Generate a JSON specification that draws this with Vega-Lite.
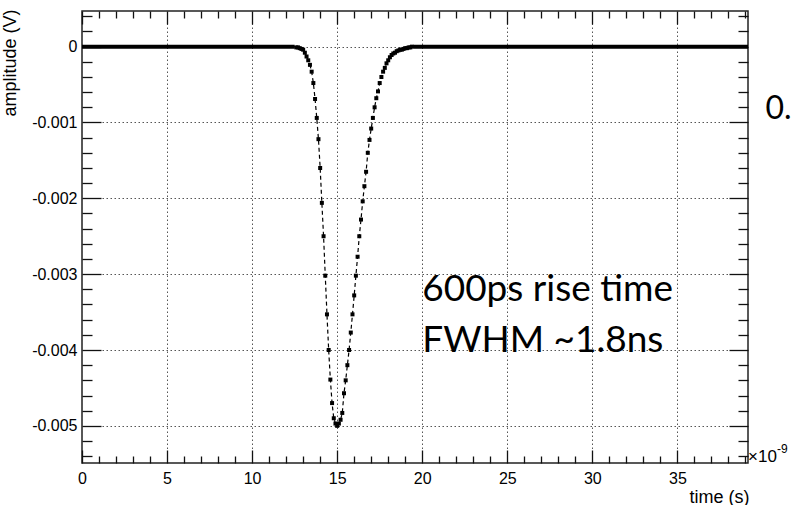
{
  "$schema": "https://vega.github.io/schema/vega-lite/v6.json",
  "width": 666,
  "height": 452,
  "autosize": "none",
  "padding": {"left": 82, "top": 11, "right": 44, "bottom": 42},
  "background": "white",
  "config": {
    "view": {"stroke": "#222", "strokeWidth": 1.5},
    "axis": {
      "domain": false,
      "labelFont": "Liberation Sans",
      "labelFontSize": 16,
      "labelColor": "black",
      "titleFont": "Liberation Sans",
      "titleFontSize": 18,
      "titleFontWeight": "normal",
      "titleColor": "black",
      "tickColor": "#111",
      "tickWidth": 1.3,
      "gridColor": "#555",
      "gridDash": [1.5, 2.5],
      "gridWidth": 1,
      "labelFlush": false,
      "labelOverlap": false
    }
  },
  "datasets": {
    "wave": [
      {"t": 0, "v": 0, "seg": "flatL"}, {"t": 1, "v": 0, "seg": "flatL"}, {"t": 2, "v": 0, "seg": "flatL"},
      {"t": 3, "v": 0, "seg": "flatL"}, {"t": 4, "v": 0, "seg": "flatL"}, {"t": 5, "v": 0, "seg": "flatL"},
      {"t": 6, "v": 0, "seg": "flatL"}, {"t": 7, "v": 0, "seg": "flatL"}, {"t": 8, "v": 0, "seg": "flatL"},
      {"t": 9, "v": 0, "seg": "flatL"}, {"t": 10, "v": 0, "seg": "flatL"}, {"t": 11, "v": 0, "seg": "flatL"},
      {"t": 12, "v": 0, "seg": "flatL"}, {"t": 12.5, "v": 0, "seg": "flatL"},
      {"t": 12.6, "v": -0.00001, "seg": "pulse"},
      {"t": 12.7, "v": -0.00001, "seg": "pulse"},
      {"t": 12.8, "v": -0.00002, "seg": "pulse"},
      {"t": 12.9, "v": -0.00003, "seg": "pulse"},
      {"t": 13.0, "v": -0.00004, "seg": "pulse"},
      {"t": 13.1, "v": -0.00008, "seg": "pulse"},
      {"t": 13.2, "v": -0.00013, "seg": "pulse"},
      {"t": 13.3, "v": -0.00018, "seg": "pulse"},
      {"t": 13.4, "v": -0.00024, "seg": "pulse"},
      {"t": 13.5, "v": -0.00033, "seg": "pulse"},
      {"t": 13.6, "v": -0.00048, "seg": "pulse"},
      {"t": 13.7, "v": -0.00069, "seg": "pulse"},
      {"t": 13.8, "v": -0.00094, "seg": "pulse"},
      {"t": 13.9, "v": -0.00122, "seg": "pulse"},
      {"t": 14.0, "v": -0.0016, "seg": "pulse"},
      {"t": 14.1, "v": -0.00206, "seg": "pulse"},
      {"t": 14.2, "v": -0.0025, "seg": "pulse"},
      {"t": 14.3, "v": -0.00302, "seg": "pulse"},
      {"t": 14.4, "v": -0.00353, "seg": "pulse"},
      {"t": 14.5, "v": -0.004, "seg": "pulse"},
      {"t": 14.6, "v": -0.00439, "seg": "pulse"},
      {"t": 14.7, "v": -0.0047, "seg": "pulse"},
      {"t": 14.8, "v": -0.0049, "seg": "pulse"},
      {"t": 14.9, "v": -0.00497, "seg": "pulse"},
      {"t": 15.0, "v": -0.005, "seg": "pulse"},
      {"t": 15.1, "v": -0.00497, "seg": "pulse"},
      {"t": 15.2, "v": -0.00492, "seg": "pulse"},
      {"t": 15.3, "v": -0.00483, "seg": "pulse"},
      {"t": 15.4, "v": -0.00457, "seg": "pulse"},
      {"t": 15.5, "v": -0.0044, "seg": "pulse"},
      {"t": 15.6, "v": -0.0042, "seg": "pulse"},
      {"t": 15.7, "v": -0.004, "seg": "pulse"},
      {"t": 15.8, "v": -0.00377, "seg": "pulse"},
      {"t": 15.9, "v": -0.00353, "seg": "pulse"},
      {"t": 16.0, "v": -0.00328, "seg": "pulse"},
      {"t": 16.1, "v": -0.00302, "seg": "pulse"},
      {"t": 16.2, "v": -0.00277, "seg": "pulse"},
      {"t": 16.3, "v": -0.0025, "seg": "pulse"},
      {"t": 16.4, "v": -0.00228, "seg": "pulse"},
      {"t": 16.5, "v": -0.00204, "seg": "pulse"},
      {"t": 16.6, "v": -0.00184, "seg": "pulse"},
      {"t": 16.7, "v": -0.00165, "seg": "pulse"},
      {"t": 16.8, "v": -0.0014, "seg": "pulse"},
      {"t": 16.9, "v": -0.00123, "seg": "pulse"},
      {"t": 17.0, "v": -0.00108, "seg": "pulse"},
      {"t": 17.1, "v": -0.00094, "seg": "pulse"},
      {"t": 17.2, "v": -0.0008, "seg": "pulse"},
      {"t": 17.3, "v": -0.00068, "seg": "pulse"},
      {"t": 17.4, "v": -0.00059, "seg": "pulse"},
      {"t": 17.5, "v": -0.00048, "seg": "pulse"},
      {"t": 17.6, "v": -0.0004, "seg": "pulse"},
      {"t": 17.7, "v": -0.00033, "seg": "pulse"},
      {"t": 17.8, "v": -0.00028, "seg": "pulse"},
      {"t": 17.9, "v": -0.00022, "seg": "pulse"},
      {"t": 18.0, "v": -0.00018, "seg": "pulse"},
      {"t": 18.1, "v": -0.00014, "seg": "pulse"},
      {"t": 18.2, "v": -0.00011, "seg": "pulse"},
      {"t": 18.3, "v": -0.00009, "seg": "pulse"},
      {"t": 18.4, "v": -0.00008, "seg": "pulse"},
      {"t": 18.5, "v": -0.00006, "seg": "pulse"},
      {"t": 18.6, "v": -0.00005, "seg": "pulse"},
      {"t": 18.7, "v": -0.00004, "seg": "pulse"},
      {"t": 18.8, "v": -0.00004, "seg": "pulse"},
      {"t": 18.9, "v": -0.00003, "seg": "pulse"},
      {"t": 19.0, "v": -0.00002, "seg": "pulse"},
      {"t": 19.1, "v": -0.00002, "seg": "pulse"},
      {"t": 19.2, "v": -0.00001, "seg": "pulse"},
      {"t": 19.3, "v": -0.00001, "seg": "pulse"},
      {"t": 19.4, "v": 0, "seg": "pulse"},
      {"t": 19.5, "v": 0, "seg": "flatR"}, {"t": 20, "v": 0, "seg": "flatR"}, {"t": 21, "v": 0, "seg": "flatR"},
      {"t": 22, "v": 0, "seg": "flatR"}, {"t": 23, "v": 0, "seg": "flatR"}, {"t": 24, "v": 0, "seg": "flatR"},
      {"t": 25, "v": 0, "seg": "flatR"}, {"t": 26, "v": 0, "seg": "flatR"}, {"t": 27, "v": 0, "seg": "flatR"},
      {"t": 28, "v": 0, "seg": "flatR"}, {"t": 29, "v": 0, "seg": "flatR"}, {"t": 30, "v": 0, "seg": "flatR"},
      {"t": 31, "v": 0, "seg": "flatR"}, {"t": 32, "v": 0, "seg": "flatR"}, {"t": 33, "v": 0, "seg": "flatR"},
      {"t": 34, "v": 0, "seg": "flatR"}, {"t": 35, "v": 0, "seg": "flatR"}, {"t": 36, "v": 0, "seg": "flatR"},
      {"t": 37, "v": 0, "seg": "flatR"}, {"t": 38, "v": 0, "seg": "flatR"}, {"t": 39, "v": 0, "seg": "flatR"},
      {"t": 39.15, "v": 0, "seg": "flatR"}
    ]
  },
  "layer": [
    {
      "data": {"name": "wave"},
      "mark": {"type": "line", "color": "black", "strokeWidth": 1.2, "strokeDash": [4, 3]},
      "encoding": {
        "x": {"field": "t", "type": "quantitative",
          "scale": {"domain": [0, 39.15], "nice": false, "zero": false},
          "axis": {"orient": "bottom", "values": [0, 5, 10, 15, 20, 25, 30, 35], "tickSize": -13, "labelPadding": 20,
            "grid": true, "title": "time (s)", "titleX": 667, "titleY": 39, "titleAlign": "right", "titleBaseline": "alphabetic"}},
        "y": {"field": "v", "type": "quantitative",
          "scale": {"domain": [-0.00549, 0.00047], "nice": false, "zero": false},
          "axis": {"orient": "left", "values": [0, -0.001, -0.002, -0.003, -0.004, -0.005], "tickSize": -19, "labelPadding": 24,
            "grid": true, "labelExpr": "'' + datum.value", "title": "amplitude (V)", "titleX": -67, "titleY": -2,
            "titleAngle": -90, "titleAlign": "right", "titleBaseline": "alphabetic"}}
      }
    },
    {
      "data": {"name": "wave"},
      "transform": [{"filter": "datum.seg != 'pulse'"}],
      "mark": {"type": "line", "color": "black", "strokeWidth": 4},
      "encoding": {
        "x": {"field": "t", "type": "quantitative",
          "scale": {"domain": [0, 39.15], "nice": false, "zero": false},
          "axis": {"orient": "bottom", "values": [1,2,3,4,6,7,8,9,11,12,13,14,16,17,18,19,21,22,23,24,26,27,28,29,31,32,33,34,36,37,38,39],
            "tickSize": -7, "labels": false, "grid": false, "title": null}},
        "y": {"field": "v", "type": "quantitative",
          "scale": {"domain": [-0.00549, 0.00047], "nice": false, "zero": false},
          "axis": {"orient": "left", "values": [0.0004,0.0002,-0.0002,-0.0004,-0.0006,-0.0008,-0.0012,-0.0014,-0.0016,-0.0018,-0.0022,-0.0024,-0.0026,-0.0028,-0.0032,-0.0034,-0.0036,-0.0038,-0.0042,-0.0044,-0.0046,-0.0048,-0.0052,-0.0054],
            "tickSize": -10, "labels": false, "grid": false, "title": null}},
        "detail": {"field": "seg"}
      }
    },
    {
      "data": {"name": "wave"},
      "transform": [{"filter": "datum.seg == 'pulse'"}],
      "mark": {"type": "point", "shape": "square", "filled": true, "color": "black", "size": 16, "opacity": 1},
      "encoding": {
        "x": {"field": "t", "type": "quantitative",
          "scale": {"domain": [0, 39.15], "nice": false, "zero": false},
          "axis": {"orient": "top", "values": [1,2,3,4,6,7,8,9,11,12,13,14,16,17,18,19,21,22,23,24,26,27,28,29,31,32,33,34,36,37,38,39],
            "tickSize": -7, "labels": false, "grid": false, "title": null}},
        "y": {"field": "v", "type": "quantitative",
          "scale": {"domain": [-0.00549, 0.00047], "nice": false, "zero": false},
          "axis": {"orient": "right", "values": [0.0004,0.0002,-0.0002,-0.0004,-0.0006,-0.0008,-0.0012,-0.0014,-0.0016,-0.0018,-0.0022,-0.0024,-0.0026,-0.0028,-0.0032,-0.0034,-0.0036,-0.0038,-0.0042,-0.0044,-0.0046,-0.0048,-0.0052,-0.0054],
            "tickSize": -10, "labels": false, "grid": false, "title": null}}
      }
    },
    {
      "data": {"values": [
        {"label": "600ps rise time", "t": 20, "v": -0.00336},
        {"label": "FWHM ~1.8ns", "t": 20, "v": -0.00402}
      ]},
      "mark": {"type": "text", "font": "Lato", "fontSize": 37, "align": "left", "baseline": "alphabetic", "color": "black"},
      "encoding": {
        "x": {"field": "t", "type": "quantitative",
          "scale": {"domain": [0, 39.15], "nice": false, "zero": false},
          "axis": {"orient": "top", "values": [0, 5, 10, 15, 20, 25, 30, 35], "tickSize": -13, "labels": false, "grid": false, "title": null}},
        "y": {"field": "v", "type": "quantitative",
          "scale": {"domain": [-0.00549, 0.00047], "nice": false, "zero": false},
          "axis": {"orient": "right", "values": [0, -0.001, -0.002, -0.003, -0.004, -0.005], "tickSize": -19, "labels": false, "grid": false, "title": null}},
        "text": {"field": "label"}
      }
    },
    {
      "data": {"values": [{"label": "0.", "t": 40.18, "v": -0.00095}]},
      "mark": {"type": "text", "font": "Lato", "fontSize": 32, "align": "left", "baseline": "alphabetic", "color": "black"},
      "encoding": {
        "x": {"field": "t", "type": "quantitative", "scale": {"domain": [0, 39.15], "nice": false, "zero": false}, "axis": null},
        "y": {"field": "v", "type": "quantitative", "scale": {"domain": [-0.00549, 0.00047], "nice": false, "zero": false}, "axis": null},
        "text": {"field": "label"}
      }
    },
    {
      "data": {"values": [{"label": "×10", "t": 39.15, "v": -0.00548}]},
      "mark": {"type": "text", "font": "Liberation Sans", "fontSize": 17, "align": "left", "baseline": "alphabetic", "color": "black"},
      "encoding": {
        "x": {"field": "t", "type": "quantitative", "scale": {"domain": [0, 39.15], "nice": false, "zero": false}, "axis": null},
        "y": {"field": "v", "type": "quantitative", "scale": {"domain": [-0.00549, 0.00047], "nice": false, "zero": false}, "axis": null},
        "text": {"field": "label"}
      }
    },
    {
      "data": {"values": [{"label": "-9", "t": 40.85, "v": -0.00536}]},
      "mark": {"type": "text", "font": "Liberation Sans", "fontSize": 12, "align": "left", "baseline": "alphabetic", "color": "black"},
      "encoding": {
        "x": {"field": "t", "type": "quantitative", "scale": {"domain": [0, 39.15], "nice": false, "zero": false}, "axis": null},
        "y": {"field": "v", "type": "quantitative", "scale": {"domain": [-0.00549, 0.00047], "nice": false, "zero": false}, "axis": null},
        "text": {"field": "label"}
      }
    }
  ],
  "resolve": {"axis": {"x": "independent", "y": "independent"}}
}
